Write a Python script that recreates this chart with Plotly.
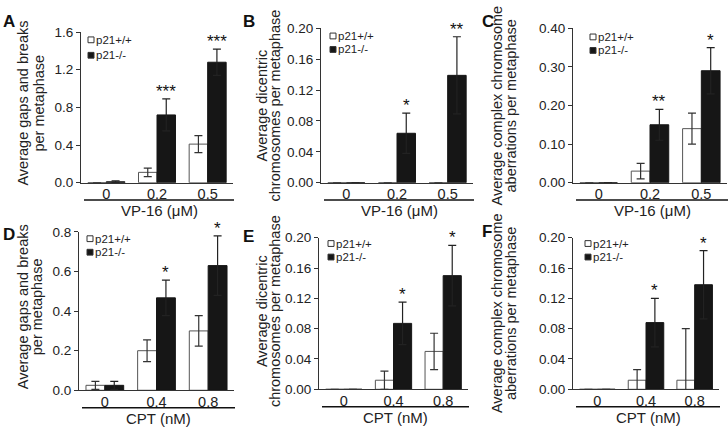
import plotly.graph_objects as go

W, H = 728, 434

# ---------------- data ----------------
vp_cats = ["0", "0.2", "0.5"]
cpt_cats = ["0", "0.4", "0.8"]

a_wt = [0.0, 0.11, 0.41]
a_wt_err = [0.0, 0.045, 0.09]
a_ko = [0.01, 0.72, 1.28]
a_ko_err = [0.01, 0.17, 0.14]
a_stars = ["", "***", "***"]

b_wt = [0.0, 0.0, 0.0]
b_wt_err = [0.0, 0.0, 0.0]
b_ko = [0.0, 0.064, 0.139]
b_ko_err = [0.0, 0.026, 0.05]
b_stars = ["", "*", "**"]

c_wt = [0.0, 0.03, 0.14]
c_wt_err = [0.0, 0.02, 0.04]
c_ko = [0.0, 0.15, 0.29]
c_ko_err = [0.0, 0.04, 0.06]
c_stars = ["", "**", "*"]

d_wt = [0.025, 0.20, 0.30]
d_wt_err = [0.02, 0.055, 0.077]
d_ko = [0.025, 0.467, 0.63]
d_ko_err = [0.02, 0.09, 0.15]
d_stars = ["", "*", "*"]

e_wt = [0.0, 0.012, 0.05]
e_wt_err = [0.0, 0.012, 0.024]
e_ko = [0.0, 0.087, 0.15]
e_ko_err = [0.0, 0.028, 0.04]
e_stars = ["", "*", "*"]

f_wt = [0.0, 0.012, 0.012]
f_wt_err = [0.0, 0.014, 0.068]
f_ko = [0.0, 0.088, 0.138]
f_ko_err = [0.0, 0.032, 0.045]
f_stars = ["", "*", "*"]

series_names = ["p21+/+", "p21-/-"]

# ---------------- layout spec ----------------
FONT = "Liberation Sans, Arial, Helvetica, sans-serif"
BARGAP = 0.27

panels = [
    dict(letter="A", cats=vp_cats, wt=a_wt, wte=a_wt_err, ko=a_ko, koe=a_ko_err, stars=a_stars,
         ymax=1.6, dtick=0.4, fmt=".1f", xtitle="VP-16 (μM)",
         ytitle=["Average gaps and breaks", "per metaphase"],
         box=(81, 233, 26, 182), tcols=(23, 39), tmid=100, leg=(88, 34, 16), lx=(2, 15)),
    dict(letter="B", cats=vp_cats, wt=b_wt, wte=b_wt_err, ko=b_ko, koe=b_ko_err, stars=b_stars,
         ymax=0.2, dtick=0.04, fmt=".2f", xtitle="VP-16 (μM)",
         ytitle=["Average dicentric", "chromosomes per metaphase"],
         box=(321, 473, 22, 182), tcols=(262, 275), tmid=102, leg=(330, 30, 14), lx=(242, 15)),
    dict(letter="C", cats=vp_cats, wt=c_wt, wte=c_wt_err, ko=c_ko, koe=c_ko_err, stars=c_stars,
         ymax=0.4, dtick=0.1, fmt=".2f", xtitle="VP-16 (μM)",
         ytitle=["Average complex chromosome", "aberrations per metaphase"],
         box=(573, 727, 22, 182), tcols=(497, 511), tmid=102, leg=(590, 31, 14), lx=(481, 15)),
    dict(letter="D", cats=cpt_cats, wt=d_wt, wte=d_wt_err, ko=d_ko, koe=d_ko_err, stars=d_stars,
         ymax=0.8, dtick=0.2, fmt=".1f", xtitle="CPT (nM)",
         ytitle=["Average gaps and breaks", "per metaphase"],
         box=(79, 234, 233, 397), tcols=(23, 37), tmid=311, leg=(87, 240, 14), lx=(2, 236)),
    dict(letter="E", cats=cpt_cats, wt=e_wt, wte=e_wt_err, ko=e_ko, koe=e_ko_err, stars=e_stars,
         ymax=0.2, dtick=0.04, fmt=".2f", xtitle="CPT (nM)",
         ytitle=["Average dicentric", "chromosomes per metaphase"],
         box=(319, 468, 239, 396), tcols=(262, 275), tmid=315, leg=(328, 245, 14), lx=(242, 238)),
    dict(letter="F", cats=cpt_cats, wt=f_wt, wte=f_wt_err, ko=f_ko, koe=f_ko_err, stars=f_stars,
         ymax=0.2, dtick=0.04, fmt=".2f", xtitle="CPT (nM)",
         ytitle=["Average complex chromosome", "aberrations per metaphase"],
         box=(573, 719, 239, 396), tcols=(497, 511), tmid=317, leg=(585, 245, 14), lx=(481, 233)),
]


def px(x):
    return x / W


def py(y):
    return 1 - y / H


fig = go.Figure()
annotations = []
shapes = []

for i, p in enumerate(panels):
    n = "" if i == 0 else str(i + 1)
    xa, ya = "x" + n, "y" + n
    left, right, top, bottom = p["box"]

    fig.add_trace(go.Bar(
        x=p["cats"], y=p["wt"], name=series_names[0], xaxis=xa, yaxis=ya, showlegend=False,
        marker=dict(color="white", line=dict(color="#555555", width=1)),
        error_y=dict(type="data", array=p["wte"], color="#333333", thickness=1.2, width=4),
    ))
    fig.add_trace(go.Bar(
        x=p["cats"], y=p["ko"], name=series_names[1], xaxis=xa, yaxis=ya, showlegend=False,
        marker=dict(color="#161616", line=dict(color="#161616", width=1)),
        error_y=dict(type="data", array=p["koe"], color="#222222", thickness=1.2, width=4),
    ))

    fig.layout["xaxis" + n] = dict(
        domain=[px(left), px(right)], anchor=ya, type="category",
        categoryorder="array", categoryarray=p["cats"], range=[-0.5, 2.5],
        showline=True, linecolor="#333333", linewidth=1, ticks="",
        showgrid=False, zeroline=False, ticklabelstandoff=-2,
        tickfont=dict(size=14.5, color="#222222", family=FONT), fixedrange=True,
    )
    fig.layout["yaxis" + n] = dict(
        domain=[py(bottom), py(top)], anchor=xa, range=[0, p["ymax"]],
        dtick=p["dtick"], tick0=0, tickformat=p["fmt"],
        showline=True, linecolor="#333333", linewidth=1, ticks="outside",
        ticklen=4, tickcolor="#333333", showgrid=False, zeroline=False,
        tickfont=dict(size=13.5, color="#222222", family=FONT), fixedrange=True,
    )

    # significance stars above the p21-/- bars (x given as category index)
    cat_w = (right - left) / 3.0
    shift = (1 - BARGAP) / 4 * cat_w
    for j, (v, e, s) in enumerate(zip(p["ko"], p["koe"], p["stars"])):
        if s:
            annotations.append(dict(
                x=j, y=v + e, xref=xa, yref=ya, text=s, showarrow=False,
                xanchor="center", yanchor="bottom", xshift=shift, yshift=-4,
                font=dict(size=17, color="#111111", family=FONT)))

    # underline and x title
    shapes.append(dict(type="line", xref="paper", yref="paper",
                       x0=px(left + 3), x1=px(right + 1),
                       y0=py(bottom + 18), y1=py(bottom + 18),
                       line=dict(color="#111111", width=1.5)))
    annotations.append(dict(x=px((left + right) / 2 + 2), y=py(bottom + 29), xref="paper", yref="paper",
                            text=p["xtitle"], showarrow=False, xanchor="center", yanchor="middle",
                            borderpad=0,
                            font=dict(size=15, color="#222222", family=FONT)))

    # y title (two lines)
    for col, line in zip(p["tcols"], p["ytitle"]):
        annotations.append(dict(x=px(col), y=py(p["tmid"]), xref="paper", yref="paper",
                                text=line, textangle=-90, showarrow=False,
                                xanchor="center", yanchor="middle", borderpad=0,
                                font=dict(size=14.5, color="#222222", family=FONT)))

    # panel letter
    annotations.append(dict(x=px(p["lx"][0]), y=py(p["lx"][1]), xref="paper", yref="paper",
                            text="<b>" + p["letter"] + "</b>", showarrow=False,
                            xanchor="left", yanchor="middle", borderpad=0,
                            font=dict(size=17, color="#111111", family=FONT)))

    # legend
    lx0, ly0, dy = p["leg"]
    for k, (nm, fill) in enumerate(zip(series_names, ["white", "#161616"])):
        yc = ly0 + k * dy
        shapes.append(dict(type="rect", xref="paper", yref="paper",
                           x0=px(lx0), x1=px(lx0 + 6), y0=py(yc - 3), y1=py(yc + 3),
                           fillcolor=fill, line=dict(color="#333333", width=1)))
        annotations.append(dict(x=px(lx0 + 7), y=py(yc), xref="paper", yref="paper",
                                text=nm, showarrow=False, xanchor="left", yanchor="middle",
                                borderpad=0,
                                font=dict(size=11.5, color="#222222", family=FONT)))

fig.update_layout(
    width=W, height=H, margin=dict(l=0, r=0, t=0, b=0),
    paper_bgcolor="white", plot_bgcolor="white",
    barmode="group", bargap=BARGAP, bargroupgap=0,
    showlegend=False, annotations=annotations, shapes=shapes,
    font=dict(family=FONT, color="#222222"),
)

fig.write_html(
    "out.html",
    config={"displayModeBar": False},
    post_script="document.body.style.margin='0';document.body.style.overflow='hidden';",
)
